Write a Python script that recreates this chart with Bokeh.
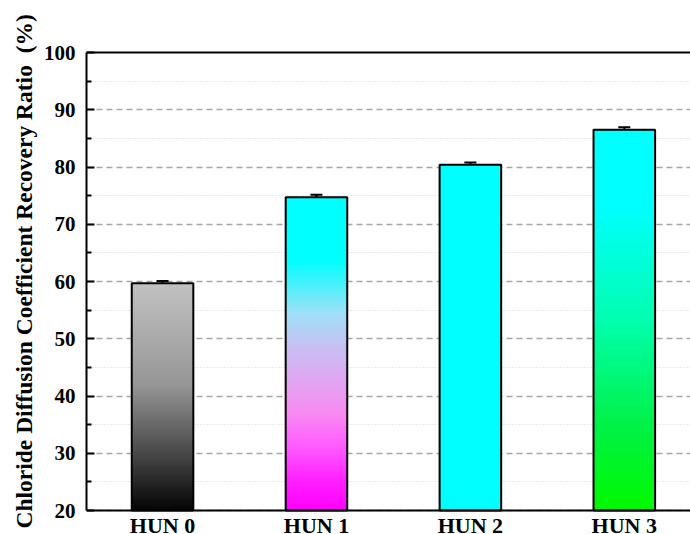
import numpy as np
from bokeh.plotting import figure
from bokeh.core.properties import value
from bokeh.models import (ColumnDataSource, FixedTicker, LinearAxis, Whisker, TeeHead,
                          Range1d, Span, Title)
from bokeh.embed import file_html
from bokeh.resources import INLINE

# Recovery ratio of the chloride diffusion coefficient per mix
categories = ["HUN 0", "HUN 1", "HUN 2", "HUN 3"]
recovery = [59.7, 74.7, 80.4, 86.5]
errors = [0.4, 0.45, 0.4, 0.45]
y_ticks = [20, 30, 40, 50, 60, 70, 80, 90, 100]
y_minor = [25, 35, 45, 55, 65, 75, 85, 95]
y_title = "Chloride Diffusion Coefficient Recovery Ratio\u00a0 (%)"

# vertical colour ramps for the bar fills: (fraction from bar top, rgb)
gradients = [
    [(0.0, (194, 194, 194)), (0.45, (150, 150, 150)), (0.8, (60, 60, 60)), (1.0, (5, 5, 5))],
    [(0.0, (0, 255, 255)), (0.2, (0, 255, 255)), (0.37, (160, 225, 248)),
     (0.48, (200, 192, 242)), (0.58, (224, 168, 242)), (0.69, (248, 140, 242)),
     (0.79, (255, 96, 255)), (0.9, (255, 35, 255)), (1.0, (255, 0, 255))],
    [(0.0, (0, 255, 255)), (1.0, (0, 255, 255))],
    [(0.0, (0, 255, 255)), (0.2, (0, 255, 255)), (0.5, (0, 255, 175)),
     (0.78, (0, 242, 70)), (1.0, (0, 250, 0))],
]

FONT = "Liberation Serif"
BAR_W = 0.4
base = y_ticks[0]
top = y_ticks[-1]
xs = list(range(len(categories)))

# the plotting area runs down to the page bottom so the category names
# under the baseline are drawn inside it
H, TOP_PAD, AXIS_PX = 534, 52, 458
y_start = top - (H - TOP_PAD) * (top - base) / AXIS_PX


def ramp_image(stops, n=256):
    t_top = 1.0 - np.arange(n) / (n - 1)  # row 0 sits at the bar bottom
    pos = [s[0] for s in stops]
    img = np.empty((n, 1), dtype=np.uint32)
    view = img.view(dtype=np.uint8).reshape((n, 1, 4))
    for ch in range(3):
        view[:, 0, ch] = np.interp(t_top, pos, [s[1][ch] for s in stops]).astype(np.uint8)
    view[:, 0, 3] = 255
    return img


p = figure(width=690, height=H, output_backend="svg", toolbar_location=None,
           x_range=Range1d(-0.494, 3.43), y_range=Range1d(y_start, top),
           min_border_left=86, min_border_top=TOP_PAD, min_border_bottom=0, min_border_right=0)
p.background_fill_color = "white"
p.border_fill_color = "white"
p.outline_line_color = None

# gradient bar fills
for i, v in enumerate(recovery):
    p.image_rgba(image=[ramp_image(gradients[i])], x=[xs[i] - BAR_W / 2], y=[base],
                 dw=[BAR_W], dh=[v - base])

# bar outlines
p.vbar(x=xs, top=recovery, bottom=base, width=BAR_W, fill_color=None,
       line_color="black", line_width=2)

# error bars
err_src = ColumnDataSource(data=dict(
    x=xs,
    upper=[v + e for v, e in zip(recovery, errors)],
    lower=[v - e for v, e in zip(recovery, errors)],
))
p.add_layout(Whisker(base="x", upper="upper", lower="lower", source=err_src,
                     line_color="black", line_width=2,
                     upper_head=TeeHead(size=12, line_width=2, line_color="black"),
                     lower_head=TeeHead(size=12, line_width=2, line_color="black")))

# y axis
yax = p.yaxis[0]
yax.bounds = (base, top)
yax.ticker = FixedTicker(ticks=y_ticks, minor_ticks=y_minor)
yax.major_label_text_font = FONT
yax.major_label_text_font_style = "bold"
yax.major_label_text_font_size = "21px"
yax.major_label_text_color = "black"
yax.major_label_standoff = 11
yax.axis_line_width = 2
yax.major_tick_in = 8
yax.major_tick_out = 0
yax.minor_tick_in = 5
yax.minor_tick_out = 0
yax.major_tick_line_width = 2
yax.minor_tick_line_width = 2

# y title
p.add_layout(Title(text=y_title, align="left", offset=6, standoff=8,
                   text_font=FONT, text_font_style="bold", text_font_size="23.5px",
                   text_color="black"), "left")

# baseline and category names
p.xaxis.visible = False
p.add_layout(Span(location=base, dimension="width", line_color="black", line_width=2))
p.text(x=xs, y=[base] * len(xs), text=categories, y_offset=2,
       text_align="center", text_baseline="top",
       text_font=value(FONT), text_font_style="bold",
       text_font_size="22px", text_color="black")

# top frame line
p.add_layout(LinearAxis(ticker=FixedTicker(ticks=[]), axis_line_width=2,
                        major_tick_line_color=None, minor_tick_line_color=None,
                        major_label_text_font_size="0px", major_label_standoff=0), "above")

# grid
p.xgrid.visible = False
p.ygrid.ticker = FixedTicker(ticks=y_ticks, minor_ticks=y_minor)
p.ygrid.grid_line_color = "#a6a6a6"
p.ygrid.grid_line_width = 1.5
p.ygrid.grid_line_dash = "6 4"
p.ygrid.minor_grid_line_color = "#d6d6d6"
p.ygrid.minor_grid_line_width = 1
p.ygrid.minor_grid_line_dash = "1 2"

open("out.html", "w").write(file_html(p, INLINE))
